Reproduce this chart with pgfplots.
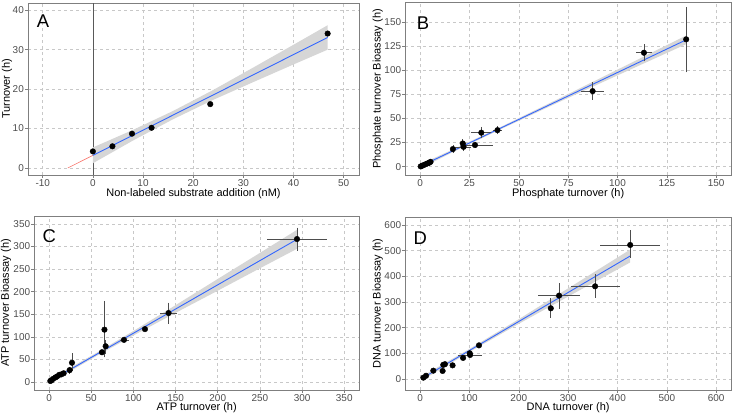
\documentclass[border=0pt]{standalone}
\usepackage{pgfplots}
\pgfplotsset{compat=1.18}
\usepackage{pgfplotstable}
\usepackage{fontspec}
\setmainfont{Liberation Sans}
\definecolor{fitblue}{HTML}{3366FF}
\definecolor{ribbon}{HTML}{D6D6D6}
\definecolor{tickgray}{HTML}{4D4D4D}
\definecolor{framegray}{HTML}{7F7F7F}
\definecolor{gridgray}{HTML}{C8C8C8}
\definecolor{redline}{HTML}{F8766D}

\pgfplotsset{
 panel/.style={
  scale only axis, anchor=south west,
  tick pos=left, tick align=outside, major tick length=3bp,
  tick style={framegray, line width=0.5bp},
  axis line style={framegray, line width=0.7bp},
  grid=major, major grid style={gridgray, dash pattern=on 3bp off 3bp, line width=0.5bp},
  tick label style={font=\fontsize{10}{12}\selectfont, text=tickgray, inner sep=1bp},
  label style={font=\fontsize{11}{13}\selectfont, inner sep=0pt},
  /pgf/number format/assume math mode=true,
 },
 pts/.style={only marks, mark=*, mark size=2.8bp, mark options={draw=black, fill=black}},
 ebars/.style={forget plot, draw=none, mark=none,
  error bars/.cd, x dir=both, y dir=both, x explicit, y explicit,
  error bar style={draw=tickgray, line width=0.6bp},
  error mark options={draw=tickgray, mark size=3bp, line width=0.6bp}},
 ebarsYonly/.style={forget plot, draw=none, mark=none,
  error bars/.cd, y dir=both, y explicit,
  error bar style={draw=tickgray, line width=0.6bp},
  error mark options={draw=tickgray, mark size=2.5bp, line width=0.6bp}},
 ebarsXonly/.style={forget plot, draw=none, mark=none,
  error bars/.cd, x dir=both, x explicit,
  error bar style={draw=tickgray, line width=0.6bp}, error mark=none},
 ebarsnocap/.style={forget plot, draw=none, mark=none,
  error bars/.cd, x dir=both, y dir=both, x explicit, y explicit,
  error bar style={draw=tickgray, line width=0.6bp}, error mark=none},
 fit/.style={fitblue, line width=0.9bp},
 rib/.style={fill=ribbon, draw=none},
}

% Panel A
\pgfplotstableread{
x y
0 4.2
3.9 5.5
7.8 8.7
11.7 10.2
23.4 16.2
46.8 34.1
}\tabA

% Panel B
\pgfplotstableread{
x y
0.3 0.2
1.0 0.9
1.8 1.6
2.8 2.5
3.8 3.4
4.6 4.0
5.3 5.0
16.6 18.2
21.6 24.0
22.0 20.5
27.8 22.4
31.0 35.2
39.2 37.8
87.4 78.3
113.4 118.1
134.8 132.0
}\tabB
\pgfplotstableread{
x y xp xm yp ym
16.6 18.2 0 0 0.8 0.8
21.6 24.0 0 0 1.2 1.2
22.0 20.5 2.5 2.6 1.2 1.2
27.8 22.4 7.6 4.3 0 0
31.0 35.2 3.6 3.8 2.8 2.8
39.2 37.8 0.6 0.6 1.0 1.0
87.4 78.3 4.2 4.3 6.2 5.9
113.4 118.1 2.6 2.5 5.6 5.9
134.8 132.0 0 0 30.5 31.2
}\tabBerr

% Panel C
\pgfplotstableread{
x y
1.5 2.5
2.7 3.6
4.7 7.0
7.5 10.2
9.5 12.5
12.2 16.2
14.5 17.0
17.3 19.5
24.4 26.5
27.2 42.8
62.7 66.0
65.7 116.0
67.1 79.3
88.8 93.4
113.7 117.2
141.7 152.8
294.0 316.5
}\tabC
\pgfplotstableread{
x y xp xm yp ym
24.4 26.5 1.5 1.5 2 2
27.2 42.8 0 0 16 12
62.7 66.0 5.2 3.9 0 0
65.7 116.0 0 0 58 56
67.1 79.3 0 0 7.5 11
88.8 93.4 5.5 4.3 0 0
141.7 152.8 9.8 10.7 17.7 17.8
294.0 316.5 36 36 19.5 20
}\tabCerr

% Panel D
\pgfplotstableread{
x y
6.6 5.1
12.0 12.5
26.8 32.3
45.6 31.2
46.9 55.0
50.3 57.5
65.8 53.0
87.1 82.0
100.6 100.0
101.2 93.5
119.3 131.0
264.8 275.3
281.6 324.7
354.6 361.0
425.7 522.0
}\tabD
\pgfplotstableread{
x y xp xm yp ym
101.2 93.5 23.8 24.2 0 0
119.3 131.0 0 0 4 4
264.8 275.3 0 0 39 39
281.6 324.7 43.4 42.3 50.3 52
354.6 361.0 51 48.6 46.8 47
425.7 522.0 60.3 60.7 58.5 52
}\tabDerr

\begin{document}
\begin{tikzpicture}
\useasboundingbox (0,0) rectangle (733bp,415bp);

% ---------- A ----------
\begin{axis}[panel, at={(28bp,240bp)}, width=331bp, height=172bp,
  xmin=-12.93, xmax=53.05, ymin=-1.78, ymax=41.85,
  xtick={-10,0,...,50}, ytick={0,10,...,40},
  xlabel={Non-labeled substrate addition (nM)}, ylabel={Turnover (h)},
  xlabel style={at={(axis description cs:0.5,-0.107)}, anchor=center},
  ylabel style={at={(axis description cs:-0.0634,0.5)}, anchor=center}]
\addplot[black!65, line width=0.6bp] coordinates {(0,-1.78) (0,41.85)};
\addplot[rib] coordinates {(0,1.2)(8,6.96)(16,12.37)(24,17.29)(32,21.8)(40,26.26)(46.8,30.01)
  (46.8,36.21)(40,31.26)(32,25.5)(24,19.79)(16,14.47)(8,9.66)(0,5.2)};
\addplot[redline, line width=0.6bp] coordinates {(-5,0) (0,3.2)};
\addplot[fit] coordinates {(0,3.2) (46.8,33.11)};
\addplot[pts] table[x=x,y=y]{\tabA};
\end{axis}

% ---------- B ----------
\begin{axis}[panel, at={(405.3bp,239.7bp)}, width=325.7bp, height=172.6bp,
  xmin=-7.5, xmax=157.5, ymin=-9, ymax=170,
  xtick={0,25,...,150}, ytick={0,25,...,150},
  xlabel={Phosphate turnover (h)}, ylabel={Phosphate turnover Bioassay (h)},
  xlabel style={at={(axis description cs:0.5,-0.104)}, anchor=center},
  ylabel style={at={(axis description cs:-0.0847,0.5)}, anchor=center}]
\addplot[rib] coordinates {(0.3,-1.5)(20,18.4)(40,37.96)(70,66.6)(100,94.6)(134.8,127)
  (134.8,136)(100,100.6)(70,70.2)(40,40.36)(20,21.0)(0.3,2.5)};
\addplot[fit] coordinates {(0.3,0.49) (134.8,131.5)};
\addplot[ebars] table[x=x,y=y,x error plus=xp,x error minus=xm,y error plus=yp,y error minus=ym]{\tabBerr};
\addplot[pts] table[x=x,y=y]{\tabB};
\end{axis}

% ---------- C ----------
\begin{axis}[panel, at={(34.3bp,25bp)}, width=324.7bp, height=174bp,
  xmin=-17.5, xmax=367.5, ymin=-17.5, ymax=367.5,
  xtick={0,50,...,350}, ytick={0,50,...,350},
  xlabel={ATP turnover (h)}, ylabel={ATP turnover Bioassay (h)},
  xlabel style={at={(axis description cs:0.5,-0.101)}, anchor=center},
  ylabel style={at={(axis description cs:-0.0872,0.5)}, anchor=center}]
\addplot[rib] coordinates {(1.6,-1.3)(60,61.8)(100,103.1)(150,153.2)(200,202.2)(250,251.8)(294,294.9)
  (294,336.9)(250,285.8)(200,228.2)(150,170.2)(100,113.1)(60,68.8)(1.6,6.7)};
\addplot[fit] coordinates {(1.6,2.71) (294,315.9)};
\addplot[ebarsYonly] table[x=x,y=y,y error plus=yp,y error minus=ym]{\tabCerr};
\addplot[ebarsXonly] table[x=x,y=y,x error plus=xp,x error minus=xm]{\tabCerr};
\addplot[pts] table[x=x,y=y]{\tabC};
\end{axis}

% ---------- D ----------
\begin{axis}[panel, at={(405.3bp,25bp)}, width=325.7bp, height=173bp,
  xmin=-30, xmax=630, ymin=-43, ymax=631,
  xtick={0,100,...,600}, ytick={0,100,...,600},
  xlabel={DNA turnover (h)}, ylabel={DNA turnover Bioassay (h)},
  xlabel style={at={(axis description cs:0.5,-0.101)}, anchor=center},
  ylabel style={at={(axis description cs:-0.0847,0.5)}, anchor=center}]
\addplot[rib] coordinates {(6.6,-2.5)(100,105)(200,215)(300,321)(425.7,454)
  (425.7,504)(300,353)(200,233)(100,117)(6.6,13.5)};
\addplot[fit] coordinates {(6.6,5.46) (425.7,479)};
\addplot[ebarsnocap] table[x=x,y=y,x error plus=xp,x error minus=xm,y error plus=yp,y error minus=ym]{\tabDerr};
\addplot[pts] table[x=x,y=y]{\tabD};
\end{axis}

\node[anchor=base west, inner sep=0, font=\fontsize{18.5}{20}\selectfont] at (36.7bp,387.7bp) {A};
\node[anchor=base west, inner sep=0, font=\fontsize{18.5}{20}\selectfont] at (416.7bp,385.7bp) {B};
\node[anchor=base west, inner sep=0, font=\fontsize{18.5}{20}\selectfont] at (42.3bp,172.7bp) {C};
\node[anchor=base west, inner sep=0, font=\fontsize{18.5}{20}\selectfont] at (413.3bp,170.7bp) {D};
\end{tikzpicture}
\end{document}
